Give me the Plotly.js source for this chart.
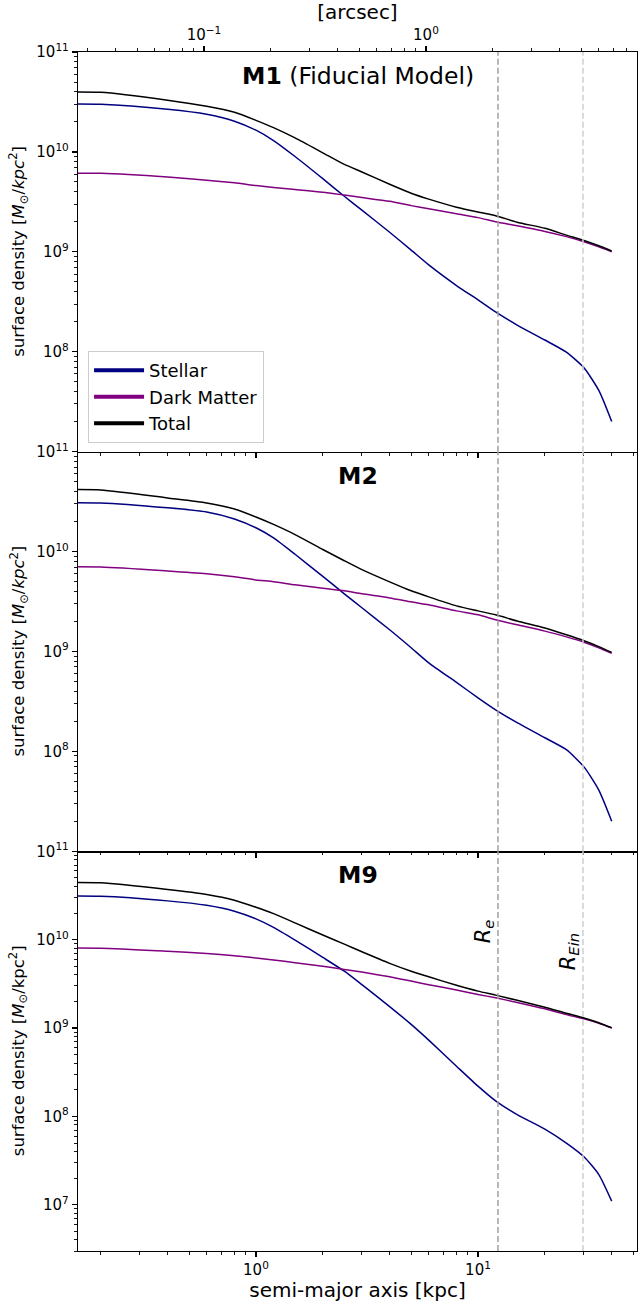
<!DOCTYPE html>
<html>
<head>
<meta charset="utf-8">
<script src="https://cdn.plot.ly/plotly-3.0.1.min.js"></script>
<style>
html,body{margin:0;padding:0;background:#fff;}
#chart{width:638px;height:1302px;}
</style>
</head>
<body>
<div id="chart"></div>
<script>
// ---------------- data ----------------
const radius_kpc = [0.1, 0.2, 0.4, 0.6, 0.8, 1.0, 1.2, 1.5, 2.0, 2.5, 3.0, 4.0, 5.0, 6.0, 8.0, 10, 12, 15, 20, 25, 30, 35, 40];

const m1_stellar = [3.0e10, 3.0e10, 2.67e10, 2.38e10, 2.03e10, 1.65e10, 1.3e10, 9.0e9, 5.4e9, 3.6e9, 2.61e9, 1.57e9, 1.04e9, 7.4e8, 4.6e8, 3.3e8, 2.5e8, 1.85e8, 1.31e8, 9.9e7, 6.9e7, 4.1e7, 2.0e7];
const m1_dm      = [6.1e9, 6.1e9, 5.6e9, 5.2e9, 4.9e9, 4.6e9, 4.4e9, 4.2e9, 3.95e9, 3.7e9, 3.5e9, 3.2e9, 2.9e9, 2.7e9, 2.4e9, 2.2e9, 2.0e9, 1.82e9, 1.6e9, 1.42e9, 1.26e9, 1.12e9, 1.0e9];
const m1_total   = [3.95e10, 3.95e10, 3.29e10, 2.86e10, 2.49e10, 2.07e10, 1.75e10, 1.38e10, 9.8e9, 7.5e9, 6.3e9, 4.75e9, 3.86e9, 3.37e9, 2.8e9, 2.5e9, 2.3e9, 1.98e9, 1.72e9, 1.47e9, 1.3e9, 1.15e9, 1.02e9];

const m2_stellar = [3.07e10, 3.07e10, 2.74e10, 2.49e10, 2.12e10, 1.73e10, 1.37e10, 9.4e9, 5.65e9, 3.78e9, 2.74e9, 1.65e9, 1.09e9, 7.7e8, 4.9e8, 3.44e8, 2.61e8, 1.94e8, 1.37e8, 1.04e8, 7.0e7, 4.1e7, 2.0e7];
const m2_dm      = [7.0e9, 7.0e9, 6.4e9, 6.0e9, 5.6e9, 5.2e9, 5.0e9, 4.65e9, 4.3e9, 4.05e9, 3.78e9, 3.44e9, 3.14e9, 2.93e9, 2.55e9, 2.33e9, 2.08e9, 1.85e9, 1.6e9, 1.4e9, 1.24e9, 1.09e9, 9.6e8];
const m2_total   = [4.14e10, 4.14e10, 3.44e10, 3.07e10, 2.67e10, 2.22e10, 1.87e10, 1.48e10, 1.05e10, 8.1e9, 6.6e9, 4.98e9, 4.05e9, 3.52e9, 2.86e9, 2.55e9, 2.33e9, 2.02e9, 1.72e9, 1.47e9, 1.28e9, 1.12e9, 9.8e8];

const m9_stellar = [3.1e10, 3.1e10, 2.75e10, 2.45e10, 2.1e10, 1.72e10, 1.38e10, 9.9e9, 6.3e9, 4.4e9, 3.1e9, 1.75e9, 1.1e9, 7.3e8, 3.7e8, 2.2e8, 1.5e8, 1.05e8, 7.2e7, 5.0e7, 3.5e7, 2.2e7, 1.1e7];
const m9_dm      = [8.0e9, 8.0e9, 7.4e9, 7.0e9, 6.6e9, 6.2e9, 5.9e9, 5.5e9, 5.0e9, 4.6e9, 4.3e9, 3.8e9, 3.4e9, 3.1e9, 2.7e9, 2.4e9, 2.2e9, 1.95e9, 1.65e9, 1.42e9, 1.27e9, 1.13e9, 1.0e9];
const m9_total   = [4.4e10, 4.4e10, 3.7e10, 3.25e10, 2.8e10, 2.33e10, 1.97e10, 1.55e10, 1.13e10, 8.9e9, 7.3e9, 5.4e9, 4.4e9, 3.8e9, 3.05e9, 2.62e9, 2.36e9, 2.06e9, 1.72e9, 1.47e9, 1.3e9, 1.15e9, 1.01e9];

const series_names  = ["Stellar", "Dark Matter", "Total"];
const series_colors = ["#000080", "#800080", "#000000"];
const panel_titles  = ["<b>M1</b> (Fiducial Model)", "<b>M2</b>", "<b>M9</b>"];

const R_e_kpc   = 12.3;
const R_Ein_kpc = 29.7;
const kpc_per_arcsec = 5.83;

const x_range_kpc = [0.158, 52];
const y_ranges = [[1e7, 1e11], [1e7, 1e11], [3e6, 1e11]];

const y_tickvals = [[1e8, 1e9, 1e10, 1e11], [1e8, 1e9, 1e10, 1e11], [1e7, 1e8, 1e9, 1e10, 1e11]];
const y_ticktext = [
  ["10<sup>8</sup>", "10<sup>9</sup>", "10<sup>10</sup>", "10<sup>11</sup>"],
  ["10<sup>8</sup>", "10<sup>9</sup>", "10<sup>10</sup>", "10<sup>11</sup>"],
  ["10<sup>7</sup>", "10<sup>8</sup>", "10<sup>9</sup>", "10<sup>10</sup>", "10<sup>11</sup>"]
];
const x_tickvals = [1, 10];
const x_ticktext = ["10<sup>0</sup>", "10<sup>1</sup>"];
const top_tickvals = [0.1, 1];
const top_ticktext = ["10<sup>\u22121</sup>", "10<sup>0</sup>"];

const y_titles = [
  "surface density [<i>M</i><sub>\u2299</sub>/<i>kpc</i><sup>2</sup>]",
  "surface density [<i>M</i><sub>\u2299</sub>/<i>kpc</i><sup>2</sup>]",
  "surface density [<i>M</i><sub>\u2299</sub>/kpc<sup>2</sup>]"
];

// ---------------- build ----------------
const panels = [
  [m1_stellar, m1_dm, m1_total],
  [m2_stellar, m2_dm, m2_total],
  [m9_stellar, m9_dm, m9_total]
];

const FONT = "DejaVu Sans, sans-serif";
const lg = Math.log10;

function minorTicks(lo, hi) {
  const out = [];
  for (let e = Math.floor(lg(lo)) - 1; e <= Math.ceil(lg(hi)); e++) {
    for (let k = 2; k <= 9; k++) {
      const v = k * Math.pow(10, e);
      if (v >= lo * 0.999 && v <= hi * 1.001) out.push(v);
    }
  }
  return out;
}

const traces = [];
panels.forEach((ser, p) => {
  const xa = p === 0 ? "x" : "x" + (p + 1);
  const ya = p === 0 ? "y" : "y" + (p + 1);
  ser.forEach((vals, i) => {
    traces.push({
      x: radius_kpc, y: vals, xaxis: xa, yaxis: ya,
      type: "scatter", mode: "lines",
      line: {color: series_colors[i], width: 1.5, shape: "spline", smoothing: 0.6},
      showlegend: false, hoverinfo: "skip"
    });
  });
});
series_names.forEach((n, i) => {
  traces.push({
    x: [null], y: [null], xaxis: "x", yaxis: "y", type: "scatter", mode: "lines",
    name: n, line: {color: series_colors[i], width: 4}, showlegend: true
  });
});

const xr = [lg(x_range_kpc[0]), lg(x_range_kpc[1])];
const arc_lo = x_range_kpc[0] / kpc_per_arcsec, arc_hi = x_range_kpc[1] / kpc_per_arcsec;
const xr_arcsec = [lg(arc_lo), lg(arc_hi)];

const domains = [[2/3, 1], [1/3, 2/3], [0, 1/3]];
const TICKFONT = {family: FONT, size: 15, color: "#000"};
const AX = ["x", "x2", "x3"], AY = ["y", "y2", "y3"];
const axKey = (id) => id.replace(/^x/, "xaxis").replace(/^y/, "yaxis");

const layout = {
  width: 638, height: 1302,
  margin: {l: 78, r: 1, t: 52, b: 51},
  paper_bgcolor: "#fff", plot_bgcolor: "#fff",
  font: {family: FONT, color: "#000"},
  showlegend: true,
  legend: {
    x: 0.018, y: 0.7505, xanchor: "left", yanchor: "top",
    bgcolor: "rgba(255,255,255,0.8)", bordercolor: "#cccccc", borderwidth: 1,
    font: {family: FONT, size: 18, color: "#000"},
    itemwidth: 50, tracegroupgap: 0
  },
  shapes: [],
  annotations: []
};

for (let p = 0; p < 3; p++) {
  const xa = {
    type: "log", range: xr, domain: [0, 1], anchor: AY[p],
    showgrid: false, zeroline: false,
    showline: true, linecolor: "#000", linewidth: 1.2,
    ticks: "outside", ticklen: 5, tickwidth: 1.2, tickcolor: "#000",
    tickmode: "array", tickvals: x_tickvals, ticktext: x_ticktext,
    showticklabels: p === 2, tickfont: TICKFONT
  };
  if (p === 2) xa.title = {text: "semi-major axis [kpc]", font: {family: FONT, size: 20, color: "#000"}, standoff: 6};
  layout[axKey(AX[p])] = xa;
  layout[axKey(AY[p])] = {
    type: "log", range: [lg(y_ranges[p][0]), lg(y_ranges[p][1])], domain: domains[p], anchor: AX[p],
    showgrid: false, zeroline: false,
    showline: true, mirror: true, linecolor: "#000", linewidth: 1.2,
    ticks: "outside", ticklen: 5, tickwidth: 1.2, tickcolor: "#000",
    tickmode: "array", tickvals: y_tickvals[p], ticktext: y_ticktext[p],
    tickfont: TICKFONT
  };
}
layout.xaxis4 = {
  type: "log", range: xr_arcsec, overlaying: "x", anchor: "y", side: "top",
  showgrid: false, zeroline: false, showline: true, linecolor: "#000", linewidth: 1.2,
  ticks: "outside", ticklen: 5, tickwidth: 1.2, tickcolor: "#000",
  tickmode: "array", tickvals: top_tickvals, ticktext: top_ticktext,
  tickfont: TICKFONT,
  title: {text: "[arcsec]", font: {family: FONT, size: 20, color: "#000"}, standoff: 4}
};
traces.push({x: [null], y: [null], xaxis: "x4", yaxis: "y", type: "scatter", mode: "lines", showlegend: false, hoverinfo: "skip"});

// minor-tick overlay axes (one per panel side)
function minorAxis(extra, vals) {
  return Object.assign({
    showgrid: false, zeroline: false, showline: false, showticklabels: false,
    ticks: "outside", ticklen: 3, tickwidth: 0.9, tickcolor: "#000",
    tickmode: "array", tickvals: vals
  }, extra);
}
let nx = 5, ny = 4;
for (let p = 0; p < 3; p++) {
  const yid = "y" + ny++;
  layout[axKey(yid)] = minorAxis({type: "log", range: [lg(y_ranges[p][0]), lg(y_ranges[p][1])],
    overlaying: AY[p], anchor: AX[p], side: "left"}, minorTicks(y_ranges[p][0], y_ranges[p][1]));
  traces.push({x: [null], y: [null], xaxis: AX[p], yaxis: yid, type: "scatter", mode: "lines", showlegend: false, hoverinfo: "skip"});
  const xid = "x" + nx++;
  layout[axKey(xid)] = minorAxis({type: "log", range: xr, overlaying: AX[p], anchor: AY[p], side: "bottom"},
    minorTicks(x_range_kpc[0], x_range_kpc[1]));
  traces.push({x: [null], y: [null], xaxis: xid, yaxis: AY[p], type: "scatter", mode: "lines", showlegend: false, hoverinfo: "skip"});
}
{
  const xid = "x" + nx++;
  layout[axKey(xid)] = minorAxis({type: "log", range: xr_arcsec, overlaying: "x", anchor: "y", side: "top"},
    minorTicks(arc_lo, arc_hi));
  traces.push({x: [null], y: [null], xaxis: xid, yaxis: "y", type: "scatter", mode: "lines", showlegend: false, hoverinfo: "skip"});
}

AX.forEach((xa, p) => {
  layout.shapes.push({type: "line", xref: xa, yref: AY[p] + " domain", x0: R_e_kpc, x1: R_e_kpc, y0: 0, y1: 1,
    line: {color: "#a0a0a0", width: 1.5, dash: "6px,3px"}});
  layout.shapes.push({type: "line", xref: xa, yref: AY[p] + " domain", x0: R_Ein_kpc, x1: R_Ein_kpc, y0: 0, y1: 1,
    line: {color: "#cfcfcf", width: 1.5, dash: "6px,3px"}});
});

panel_titles.forEach((t, p) => {
  layout.annotations.push({text: t, xref: "paper", x: 0.5, yref: AY[p] + " domain", y: 0.94,
    xanchor: "center", yanchor: "middle", showarrow: false,
    font: {family: FONT, size: 23.5, color: "#000"}});
  layout.annotations.push({text: y_titles[p], xref: "paper", x: -0.1073, xanchor: "center",
    yref: AY[p] + " domain", y: 0.5, yanchor: "middle", textangle: -90, showarrow: false,
    font: {family: FONT, size: 16.5, color: "#000"}});
});
layout.annotations.push({text: "<i>R</i><sub><i>e</i></sub>", xref: "x3", x: lg(R_e_kpc), xanchor: "right", xshift: 1,
  yref: "y3 domain", y: 0.80, yanchor: "middle", textangle: -90, showarrow: false,
  font: {family: FONT, size: 21, color: "#000"}});
layout.annotations.push({text: "<i>R</i><sub><i>Ein</i></sub>", xref: "x3", x: lg(R_Ein_kpc), xanchor: "right", xshift: 1,
  yref: "y3 domain", y: 0.75, yanchor: "middle", textangle: -90, showarrow: false,
  font: {family: FONT, size: 21, color: "#000"}});

Plotly.newPlot("chart", traces, layout, {displayModeBar: false, staticPlot: true});
</script>
</body>
</html>
